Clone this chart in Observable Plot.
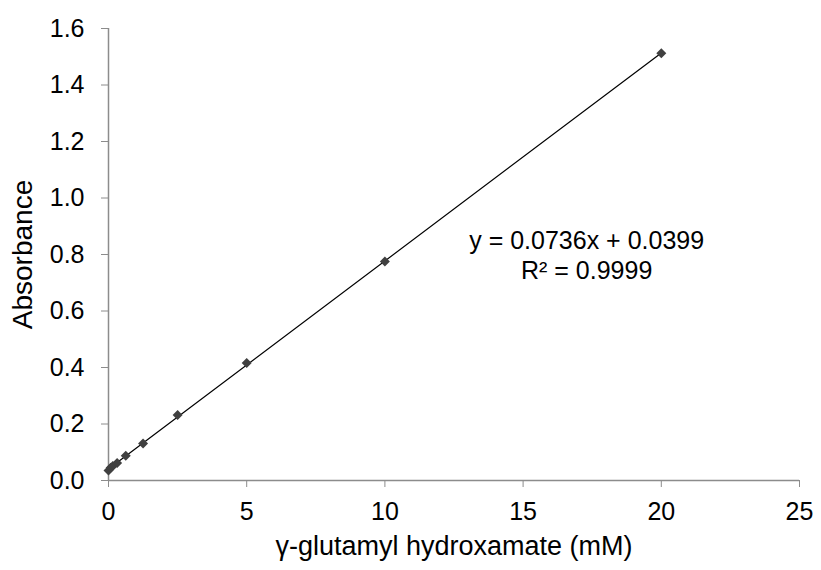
<!DOCTYPE html>
<html>
<head>
<meta charset="utf-8">
<script src="https://cdn.jsdelivr.net/npm/d3@7"></script>
<script src="https://cdn.jsdelivr.net/npm/@observablehq/plot@0.6"></script>
<style>
  html, body { margin: 0; padding: 0; background: #fff; }
  #chart svg { display: block; }
</style>
</head>
<body>
<div id="chart"></div>
<script>
// Data
const concentration = [0, 0.078, 0.156, 0.3125, 0.625, 1.25, 2.5, 5, 10, 20];
const absorbance   = [0.035, 0.045, 0.051, 0.062, 0.088, 0.131, 0.232, 0.416, 0.775, 1.512];
const xTicks = [0, 5, 10, 15, 20, 25];
const yTicks = [0, 0.2, 0.4, 0.6, 0.8, 1.0, 1.2, 1.4, 1.6];
const equationText = ["y = 0.0736x + 0.0399\nR² = 0.9999"];
const equationX = [17.3];
const equationY = [0.80];

const data = concentration.map((c, i) => ({x: c, y: absorbance[i]}));
const eq = equationText.map((t, i) => ({t, x: equationX[i], y: equationY[i]}));

const axisGray = "#8c8c8c";
const font = "'Liberation Sans', Arial, sans-serif";

const chart = Plot.plot({
  width: 821,
  height: 570,
  marginLeft: 108,
  marginRight: 22,
  marginTop: 28,
  marginBottom: 90,
  style: {fontFamily: font, fontSize: "25px", color: "#000", background: "#fff"},
  x: {domain: [0, 25]},
  y: {domain: [0, 1.6]},
  marks: [
    Plot.ruleY([0], {stroke: axisGray, strokeWidth: 1.5}),
    Plot.ruleX([0], {stroke: axisGray, strokeWidth: 1.5}),
    Plot.axisX({
      ticks: xTicks, tickSize: 7, tickPadding: 15, stroke: axisGray,
      tickFormat: d3.format("d"), fontSize: 25, label: null
    }),
    Plot.axisX({
      ticks: [], tickSize: 0,
      label: "γ-glutamyl hydroxamate (mM)", labelAnchor: "center", labelArrow: "none",
      labelOffset: 74, fontSize: 27
    }),
    Plot.axisY({
      ticks: yTicks, tickSize: 7, tickPadding: 17, stroke: axisGray,
      tickFormat: d3.format(".1f"), fontSize: 25, label: null
    }),
    Plot.axisY({
      ticks: [], tickSize: 0,
      label: "Absorbance", labelAnchor: "center", labelArrow: "none",
      labelOffset: 96, fontSize: 28
    }),
    Plot.linearRegressionY(data, {x: "x", y: "y", stroke: "#000", strokeWidth: 1.2, ci: 0}),
    Plot.dot(data, {x: "x", y: "y", symbol: "diamond2", r: 4.5, fill: "#404040", stroke: "none"}),
    Plot.text(eq, {x: "x", y: "y", text: "t", fontSize: 25, lineHeight: 1.2, fill: "#000", textAnchor: "middle"})
  ]
});
document.getElementById("chart").append(chart);
</script>
</body>
</html>
